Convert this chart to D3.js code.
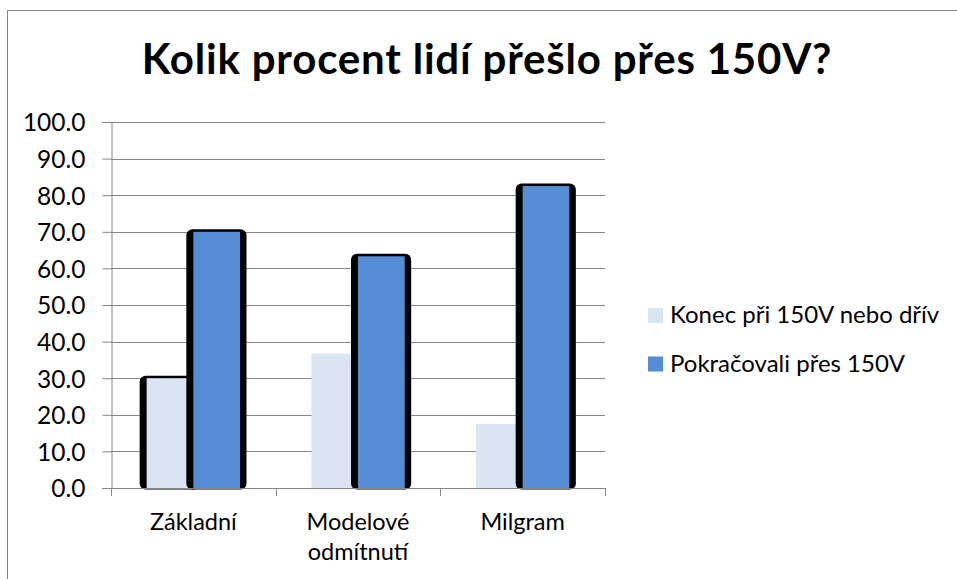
<!DOCTYPE html>
<html>
<head>
<meta charset="utf-8">
<script src="https://cdn.jsdelivr.net/npm/d3@7"></script>
<style>
  html, body { margin: 0; padding: 0; background: #fff; }
  svg text { font-family: Lato, "Noto Sans", sans-serif; fill: #000; }
</style>
</head>
<body>
<svg id="chart" width="957" height="579"></svg>
<script>
(function () {
    'use strict';

    const WIDTH = 957;
    const HEIGHT = 579;

    // data
    const categories = [["Základní"], ["Modelové", "odmítnutí"], ["Milgram"]];
    const seriesNames = ["Konec při 150V nebo dřív", "Pokračovali přes 150V"];
    const stoppedValues = [30.0, 36.7, 17.5];
    const continuedValues = [70.0, 63.3, 82.5];
    const yTicks = [0, 10, 20, 30, 40, 50, 60, 70, 80, 90, 100];
    // which bars carry the dark shadow in the original
    const stoppedShadow = [true, false, false];
    const continuedShadow = [true, true, true];

    const colors = ["#dbe5f1", "#558ed5"];
    const gray = "#868686";

    let svg = d3.select("#chart");

    // outer frame
    svg.append("rect")
        .attr("x", 7.5).attr("y", 10.5)
        .attr("width", WIDTH).attr("height", HEIGHT)
        .attr("fill", "none").attr("stroke", gray);

    svg.append("text")
        .attr("x", 487).attr("y", 74)
        .attr("text-anchor", "middle")
        .attr("font-size", 42).attr("font-weight", "bold")
        .attr("letter-spacing", 0.8)
        .text("Kolik procent lidí přešlo přes 150V?");

    let x0 = d3.scaleBand()
        .domain(d3.range(categories.length))
        .range([111, 605])
        .paddingInner(0.433)
        .paddingOuter(0.2165);

    let x1 = d3.scaleBand()
        .domain([0, 1])
        .range([0, x0.bandwidth()]);

    let y = d3.scaleLinear().domain([0, 100]).range([488, 122]);

    // gridlines
    svg.append("g")
        .selectAll("line")
        .data(yTicks.filter(d => d > 0))
        .join("line")
        .attr("x1", 111).attr("x2", 605)
        .attr("y1", d => Math.round(y(d)) + 0.5)
        .attr("y2", d => Math.round(y(d)) + 0.5)
        .attr("stroke", gray);

    // y axis
    let yAxis = svg.append("g")
        .attr("transform", "translate(111.5,0)")
        .call(d3.axisLeft(y).tickValues(yTicks).tickFormat(d3.format(".1f")).tickSize(9).tickPadding(17));
    yAxis.select(".domain").attr("stroke", gray);
    yAxis.selectAll(".tick line").attr("stroke", gray);
    yAxis.selectAll(".tick text")
        .attr("font-size", 24.5)
        .attr("font-family", "Lato, 'Noto Sans', sans-serif")
        .attr("dy", "0.36em");

    let groups = [
        {values: stoppedValues, shadow: stoppedShadow, s: 0},
        {values: continuedValues, shadow: continuedShadow, s: 1}
    ];

    groups.forEach(g => {
        let gBars = svg.append("g");
        let items = g.values.map((v, i) => ({v: v, i: i, shadow: g.shadow[i]}));

        gBars.selectAll("rect.shadow")
            .data(items.filter(d => d.shadow))
            .join("rect")
            .attr("class", "shadow")
            .attr("x", d => x0(d.i) + x1(g.s) - 7)
            .attr("y", d => y(d.v) - 2.5)
            .attr("width", x1.bandwidth() + 13.5)
            .attr("height", d => y(0) - y(d.v) + 4)
            .attr("rx", 6)
            .attr("fill", "#000");

        gBars.selectAll("rect.bar")
            .data(items)
            .join("rect")
            .attr("class", "bar")
            .attr("x", d => x0(d.i) + x1(g.s))
            .attr("y", d => y(d.v))
            .attr("width", x1.bandwidth())
            .attr("height", d => y(0) - y(d.v))
            .attr("fill", colors[g.s]);
    });

    // x axis
    let xAxis = svg.append("g");
    xAxis.append("line")
        .attr("x1", 102).attr("x2", 605.5)
        .attr("y1", 488.5).attr("y2", 488.5)
        .attr("stroke", gray);
    let step = x0.step();
    xAxis.selectAll("line.tick")
        .data(d3.range(categories.length + 1))
        .join("line")
        .attr("class", "tick")
        .attr("x1", d => Math.round(111 + d * step) + 0.5)
        .attr("x2", d => Math.round(111 + d * step) + 0.5)
        .attr("y1", 488).attr("y2", 496)
        .attr("stroke", gray);

    xAxis.selectAll("text")
        .data(categories)
        .join("text")
        .attr("x", (d, i) => x0(i) + x0.bandwidth() / 2)
        .attr("y", 530)
        .attr("text-anchor", "middle")
        .attr("font-size", 23.5)
        .selectAll("tspan")
        .data(d => d)
        .join("tspan")
        .attr("x", function () { return this.parentNode.getAttribute("x"); })
        .attr("dy", (d, i) => i === 0 ? 0 : 30)
        .text(d => d);

    // legend
    let legend = svg.append("g")
        .selectAll("g")
        .data(seriesNames)
        .join("g")
        .attr("transform", (d, i) => `translate(648,${308 + i * 48.5})`);
    legend.append("rect")
        .attr("width", 15).attr("height", 15)
        .attr("fill", (d, i) => colors[i]);
    legend.append("text")
        .attr("x", 22).attr("y", 15)
        .attr("font-size", 24)
        .text(d => d);
})();
</script>
</body>
</html>
